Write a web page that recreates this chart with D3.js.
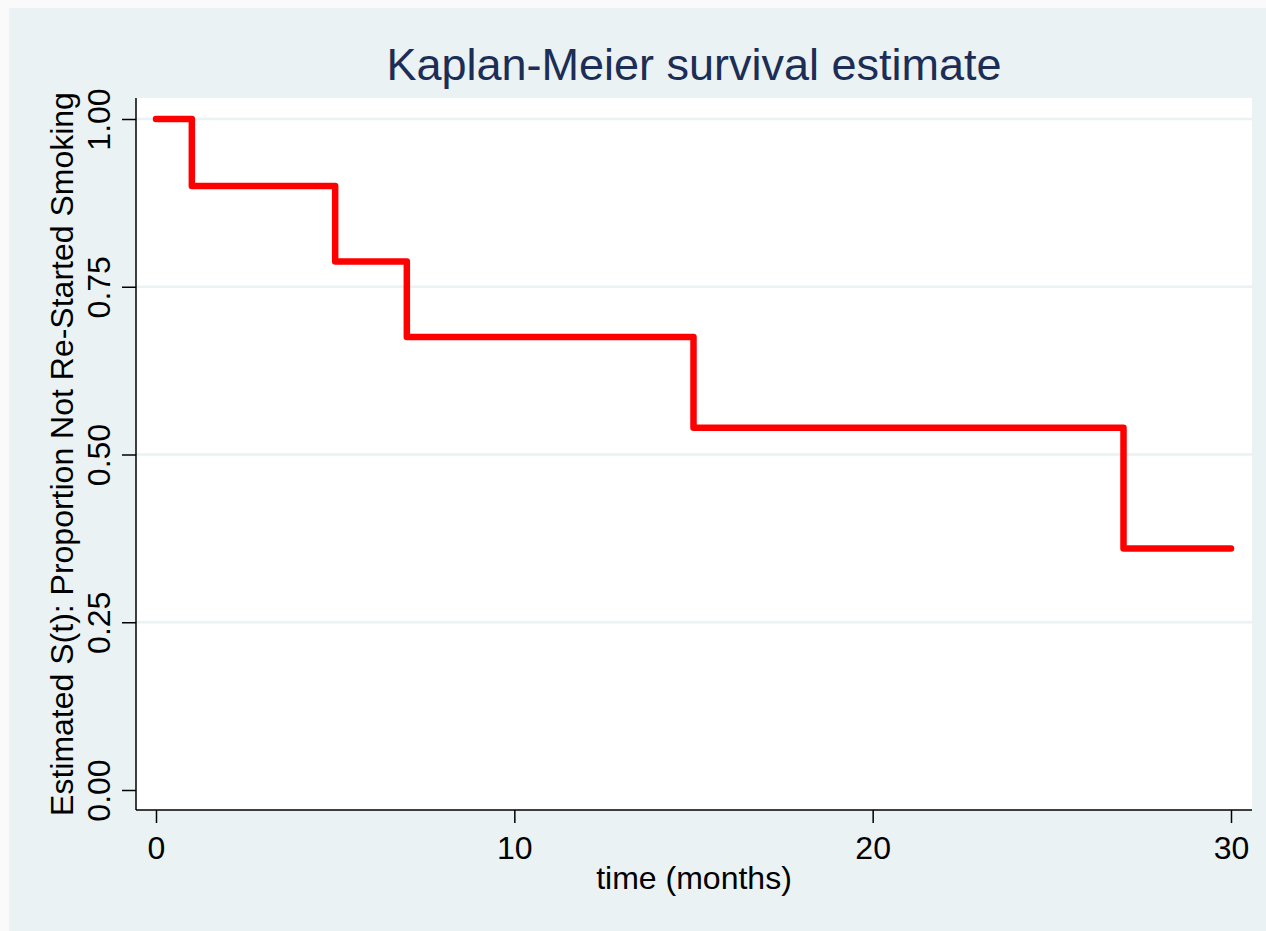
<!DOCTYPE html>
<html>
<head>
<meta charset="utf-8">
<script src="https://cdn.jsdelivr.net/npm/d3@7"></script>
<style>
  html, body { margin: 0; padding: 0; background: #fafafa; }
  svg { display: block; font-family: "Liberation Sans", Arial, sans-serif; }
</style>
</head>
<body>
<div id="chart"></div>
<script>
// Kaplan-Meier step estimate (time in months, survival proportion)
const times = [0, 1, 3, 5, 7, 10, 15, 24, 27, 30];
const survival = [1.0, 0.9, 0.9, 0.7875, 0.675, 0.675, 0.54, 0.54, 0.36, 0.36];
const xTicks = [0, 10, 20, 30];
const yTicks = [0, 0.25, 0.5, 0.75, 1];

const width = 1266, height = 931;

// plot region
const plot = { left: 136, right: 1252, top: 98, bottom: 810 };

const svg = d3.select('#chart')
  .append('svg')
  .attr('width', width)
  .attr('height', height);

// outer graph region
svg.append('rect')
  .attr('x', 9).attr('y', 8)
  .attr('width', width - 9).attr('height', height - 8)
  .attr('fill', '#eaf2f3');

svg.append('rect')
  .attr('x', plot.left).attr('y', plot.top)
  .attr('width', plot.right - plot.left).attr('height', plot.bottom - plot.top)
  .attr('fill', '#ffffff');

const x = d3.scaleLinear().domain([0, 30]).range([156, 1231]);
const y = d3.scaleLinear().domain([0, 1]).range([790, 119]);

// gridlines
svg.append('g')
  .selectAll('line')
  .data(yTicks.filter(d => d > 0))
  .join('line')
  .attr('x1', plot.left).attr('x2', plot.right)
  .attr('y1', d => y(d)).attr('y2', d => y(d))
  .attr('stroke', '#eaf2f3')
  .attr('stroke-width', 2.5);

// y axis
const yAxis = svg.append('g')
  .attr('transform', `translate(${plot.left},0)`)
  .call(d3.axisLeft(y).tickValues(yTicks).tickFormat(d3.format('.2f')).tickSize(14).tickPadding(12));
yAxis.select('.domain').attr('d', `M0,${plot.top}V${plot.bottom}`).attr('stroke', '#000').attr('stroke-width', 1.5);
yAxis.selectAll('.tick line').attr('stroke', '#000').attr('stroke-width', 1.5);
yAxis.selectAll('.tick text')
  .attr('font-size', 32)
  .attr('fill', '#000')
  .attr('text-anchor', 'middle')
  .attr('x', 0).attr('dy', 0)
  .attr('transform', 'translate(-26,0) rotate(-90)');

// x axis
const xAxis = svg.append('g')
  .attr('transform', `translate(0,${plot.bottom})`)
  .call(d3.axisBottom(x).tickValues(xTicks).tickFormat(d3.format('d')).tickSize(13).tickPadding(13));
xAxis.select('.domain').attr('d', `M${plot.left},0H${plot.right}`).attr('stroke', '#000').attr('stroke-width', 1.5);
xAxis.selectAll('.tick line').attr('stroke', '#000').attr('stroke-width', 1.5);
xAxis.selectAll('.tick text').attr('font-size', 32).attr('fill', '#000');

// survival step line
const pts = times.map((t, i) => [t, survival[i]]);
svg.append('path')
  .datum(pts)
  .attr('d', d3.line().x(d => x(d[0])).y(d => y(d[1])).curve(d3.curveStepAfter))
  .attr('fill', 'none')
  .attr('stroke', '#ff0000')
  .attr('stroke-width', 6.5)
  .attr('stroke-linejoin', 'round')
  .attr('stroke-linecap', 'round');

// titles
const cx = (plot.left + plot.right) / 2;
svg.append('text')
  .attr('x', cx).attr('y', 80)
  .attr('text-anchor', 'middle')
  .attr('font-size', 45)
  .attr('fill', '#1c2d56')
  .text('Kaplan-Meier survival estimate');

svg.append('text')
  .attr('x', cx).attr('y', 889)
  .attr('text-anchor', 'middle')
  .attr('font-size', 32)
  .attr('fill', '#000')
  .text('time (months)');

svg.append('text')
  .attr('transform', `translate(73,${(plot.top + plot.bottom) / 2}) rotate(-90)`)
  .attr('text-anchor', 'middle')
  .attr('font-size', 32)
  .attr('fill', '#000')
  .text('Estimated S(t): Proportion Not Re-Started Smoking');
</script>
</body>
</html>
